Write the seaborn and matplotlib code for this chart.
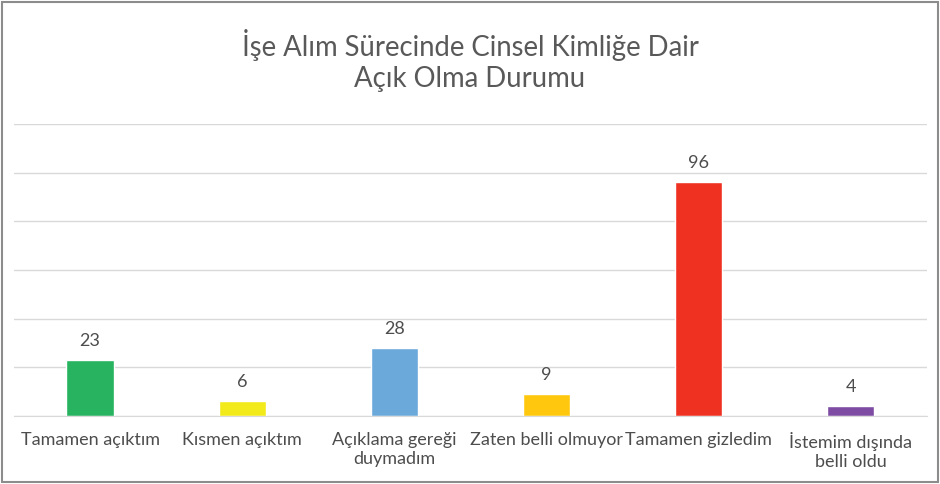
import seaborn as sns
import matplotlib.pyplot as plt
import matplotlib.patches as mpatches
import pandas as pd

# chart data
categories = ['Tamamen açıktım', 'Kısmen açıktım', 'Açıklama gereği\nduymadım',
              'Zaten belli olmuyor', 'Tamamen gizledim', 'İstemim dışında\nbelli oldu']
counts = [23, 6, 28, 9, 96, 4]
bar_colors = ['#27B35F', '#F2EA1B', '#6CA9DB', '#FFC80F', '#EF3122', '#7E4CA3']
title_text = 'İşe Alım Sürecinde Cinsel Kimliğe Dair\nAçık Olma Durumu'

sns.set_style('white')
plt.rcParams['font.family'] = ['Lato', 'DejaVu Sans']
txt_col = '#595959'

df = pd.DataFrame({'Durum': categories, 'Sayi': counts})

fig = plt.figure(figsize=(9.4, 4.84), dpi=100)
ax = fig.add_axes([0.0149, 0.1405, 0.971, 0.6033])
sns.barplot(data=df, x='Durum', y='Sayi', hue='Durum', palette=bar_colors,
            width=0.31, legend=False, ax=ax, saturation=1)

for cont in ax.containers:
    ax.bar_label(cont, padding=8, fontsize=13, color='#4d4d4d')

ax.set_ylim(0, 120)
ax.set_yticks(range(0, 121, 20))
ax.yaxis.grid(True, color='#D9D9D9', linewidth=1)
ax.set_axisbelow(True)
ax.tick_params(axis='y', left=False, labelleft=False)
ax.tick_params(axis='x', bottom=False, labelsize=13, colors='#4d4d4d', pad=8)
ax.set_xlabel('')
ax.set_ylabel('')
for s in ['top', 'right', 'left']:
    ax.spines[s].set_visible(False)
ax.spines['bottom'].set_color('#D9D9D9')

fig.text(0.5, 0.875, title_text, ha='center', va='center', fontsize=19.8,
         color=txt_col, linespacing=1.2)

fig.patches.append(mpatches.Rectangle((0.002, 0.004), 0.996, 0.992, transform=fig.transFigure,
                                      fill=False, edgecolor='#8C8C8C', linewidth=1.5))

fig.savefig('out.png', dpi=100)
